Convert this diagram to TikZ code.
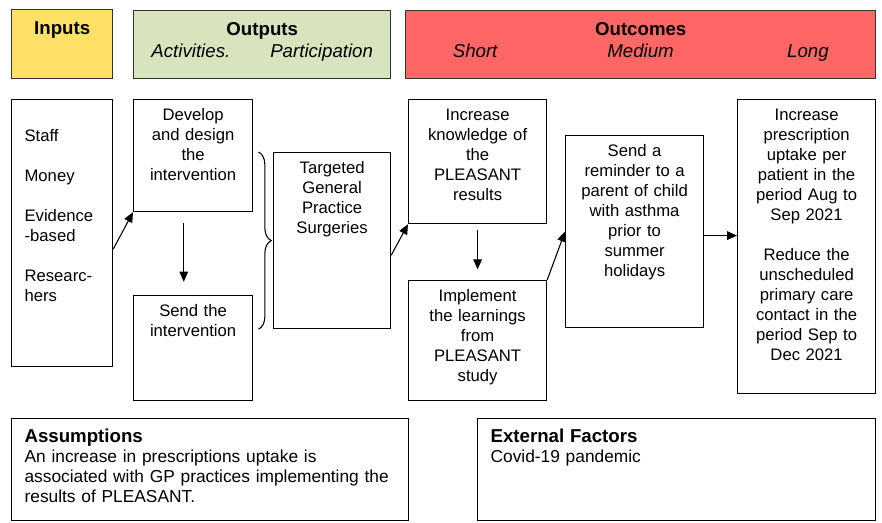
\documentclass[tikz,border=0pt]{standalone}
\usepackage{fontspec}
\setmainfont{Liberation Sans}
\usetikzlibrary{arrows.meta,decorations.pathreplacing}

\definecolor{inputyellow}{HTML}{FFE066}
\definecolor{outputgreen}{HTML}{D7E4BD}
\definecolor{outcomered}{HTML}{FF6666}

\newcommand{\notetitle}[1]{{\fontsize{14}{15}\selectfont\textbf{#1}}}

\tikzset{
    box/.style={draw, line width=0.9pt, anchor=north west, align=center,
        inner xsep=0pt, inner ysep=6pt, text height=10pt},
    head/.style={box, draw=black!80, line width=1.1pt, text height=12.5pt,
        font=\fontsize{14}{16.5}\selectfont},
    leftbox/.style={box, align=left, inner xsep=9.75pt},
    note/.style={leftbox, text height=12pt, font=\fontsize{13}{15}\selectfont},
    flow/.style={-{Triangle[length=7.5pt,width=6.5pt]}, line width=0.8pt},
}

\begin{document}
\begin{tikzpicture}[x=0.75pt, y=-0.75pt, font=\fontsize{12.5}{15}\selectfont]
    \useasboundingbox (0,0) rectangle (882,522);

    \node[head, fill=inputyellow, text width=75.75pt, text depth=27.25pt] (inputshead) at (11,9) {\textbf{Inputs}};
    \node[head, fill=outputgreen, text width=192.75pt, text depth=26.5pt] (outputshead) at (133,10)
        {\textbf{Outputs}\\\textit{Activities.}\hspace{30pt}\textit{Participation}};
    \node[head, fill=outcomered, text width=352.5pt, text depth=26.5pt] (outcomeshead) at (405,10)
        {\textbf{Outcomes}\\\textit{Short}\hspace{82pt}\textit{Medium}\hspace{85pt}\textit{Long}};

    \node[leftbox, text width=56.25pt, text height=25.5pt, text depth=162.75pt] (inputs) at (11,99)
        {Staff\\[15pt]Money\\[15pt]Evidence\\-based\\[15pt]Researc-\\hers};
    \node[box, text width=89.25pt, text depth=62pt] (develop) at (133,99)
        {Develop\\and design\\the\\intervention};
    \node[box, text width=89.25pt, text depth=56.75pt] (send) at (133,295)
        {Send the\\intervention};
    \node[box, text width=87.75pt, text depth=110pt] (targeted) at (273,152)
        {Targeted\\General\\Practice\\Surgeries};
    \node[box, text width=103.5pt, text depth=71pt] (knowledge) at (408,99)
        {Increase\\knowledge of\\the\\PLEASANT\\results};
    \node[box, text width=103.5pt, text depth=68pt] (implement) at (408,280)
        {Implement\\the learnings\\from\\PLEASANT\\study};
    \node[box, text width=103.5pt, text depth=122pt] (reminder) at (565,135)
        {Send a\\reminder to a\\parent of child\\with asthma\\prior to\\summer\\holidays};
    \node[box, text width=103.5pt, text depth=198.5pt] (uptake) at (737,99)
        {Increase\\prescription\\uptake per\\patient in the\\period Aug to\\Sep 2021\\[15pt]Reduce the\\unscheduled\\primary care\\contact in the\\period Sep to\\Dec 2021};

    \node[note, text width=278.25pt, text depth=52.5pt] (assumptions) at (11,418)
        {\notetitle{Assumptions}\\An increase in prescriptions uptake is\\associated with GP practices implementing the\\results of PLEASANT.};
    \node[note, text width=279pt, text depth=52.5pt] (external) at (477,418)
        {\notetitle{External Factors}\\Covid-19 pandemic};

    \draw[flow] ([yshift=-12pt]inputs.east) -- (develop.south west);
    \draw[flow, shorten <=8pt, shorten >=10pt] ([xshift=-7pt]develop.south) -- ([xshift=-7pt]send.north);
    \draw[decorate, decoration={brace, amplitude=9.5pt}, line width=0.8pt]
        ([xshift=4pt]develop.east |- targeted.north) -- ([xshift=4pt]send.east |- targeted.south);
    \draw[flow] ([yshift=-11pt]targeted.east) -- (knowledge.south west);
    \draw[flow, shorten <=4pt, shorten >=8pt] (knowledge.south) -- (implement.north);
    \draw[flow] (implement.north east) -- (reminder.west);
    \draw[flow] ([yshift=-3pt]reminder.east) -- ([yshift=-3pt]reminder.east -| uptake.west);
\end{tikzpicture}
\end{document}
